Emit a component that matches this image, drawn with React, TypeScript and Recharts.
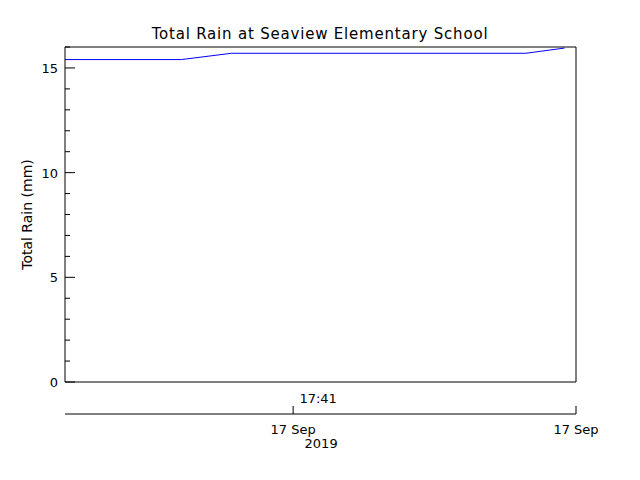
import React from "react";
import {
  LineChart,
  Line,
  XAxis,
  YAxis,
  ReferenceLine,
} from "recharts";

// minutes after 17:00 on 17 Sep 2019
const times = [36.0, 38.55, 39.65, 46.1, 46.95];
const rain = [15.4, 15.4, 15.7, 15.7, 15.95];

const timeDomain = [36.0, 47.2];
const timeTicks = [41];
const timeLabels = ["17:41"];
const dateTicks = [41, 47.2];
const dateLabels = ["17 Sep", "17 Sep"];
const yearLabels = ["2019", ""];

const yTicks = [0, 1, 2, 3, 4, 5, 6, 7, 8, 9, 10, 11, 12, 13, 14, 15, 16];
const yLabelled = [0, 5, 10, 15];

const data = times.map((t, i) => ({ t, rain: rain[i] }));

const FONT = "'DejaVu Sans', sans-serif";

function LeftTick(props: any) {
  const { x, y, payload } = props;
  const major = yLabelled.includes(payload.value);
  return (
    <g>
      <line x1={x} x2={x + (major ? 10 : 5)} y1={y} y2={y} stroke="#000" />
      {major && (
        <text x={x - 7} y={y + 5} textAnchor="end" fontSize={13} fontFamily={FONT} fill="#000">
          {payload.value}
        </text>
      )}
    </g>
  );
}

function RightTick(props: any) {
  const { x, y, payload } = props;
  const major = yLabelled.includes(payload.value);
  return <line x1={x} x2={x - (major ? 10 : 5)} y1={y} y2={y} stroke="#000" />;
}

function TimeTick(props: any) {
  const { x, y, index } = props;
  return (
    <text x={x + 25} y={y + 21} textAnchor="middle" fontSize={13} fontFamily={FONT} fill="#000">
      {timeLabels[index]}
    </text>
  );
}

function DateTick(props: any) {
  const { x, y, index } = props;
  return (
    <g>
      <line x1={x} x2={x} y1={y} y2={y - 8} stroke="#000" />
      <text x={x} y={y + 20} textAnchor="middle" fontSize={13} fontFamily={FONT} fill="#000">
        {dateLabels[index]}
      </text>
      {yearLabels[index] && (
        <text x={x + 28} y={y + 34} textAnchor="middle" fontSize={13} fontFamily={FONT} fill="#000">
          {yearLabels[index]}
        </text>
      )}
    </g>
  );
}

export default function App() {
  return (
    <div style={{ position: "absolute", left: 0, top: 0, width: 640, height: 480, background: "#fff" }}>
      <div
        style={{
          position: "absolute",
          left: 0,
          top: 24,
          width: 640,
          textAlign: "center",
          fontFamily: FONT,
          fontSize: 15,
          letterSpacing: 0.8,
          lineHeight: "20px",
        }}
      >
        Total Rain at Seaview Elementary School
      </div>
      <LineChart
        width={640}
        height={480}
        data={data}
        margin={{ top: 47, right: 0, bottom: 0, left: 0 }}
      >
        <XAxis
          xAxisId="a"
          dataKey="t"
          type="number"
          domain={timeDomain}
          ticks={timeTicks}
          tick={<TimeTick />}
          tickLine={false}
          tickSize={0}
          tickMargin={0}
          height={32}
          axisLine={{ stroke: "#000" }}
          allowDataOverflow
        />
        <XAxis
          xAxisId="b"
          dataKey="t"
          type="number"
          domain={timeDomain}
          ticks={dateTicks}
          tick={<DateTick />}
          tickLine={false}
          tickSize={0}
          tickMargin={0}
          height={66}
          axisLine={{ stroke: "#000" }}
          interval={0}
          allowDataOverflow
        />
        <YAxis
          yAxisId="left"
          type="number"
          domain={[0, 16]}
          ticks={yTicks}
          interval={0}
          tick={<LeftTick />}
          tickLine={false}
          tickSize={0}
          tickMargin={0}
          width={65}
          axisLine={{ stroke: "#000" }}
          label={{
            value: "Total Rain (mm)",
            angle: -90,
            position: "insideLeft",
            offset: 27,
            style: { fontSize: 14, fontFamily: FONT, fill: "#000", textAnchor: "middle" },
          }}
        />
        <YAxis
          yAxisId="right"
          orientation="right"
          type="number"
          domain={[0, 16]}
          ticks={yTicks}
          interval={0}
          tick={<RightTick />}
          tickLine={false}
          tickSize={0}
          tickMargin={0}
          width={64}
          axisLine={{ stroke: "#000" }}
        />
        <ReferenceLine yAxisId="left" xAxisId="a" y={16} stroke="#000" />
        <Line
          xAxisId="a"
          yAxisId="left"
          type="linear"
          dataKey="rain"
          stroke="#0000ff"
          strokeWidth={1}
          dot={false}
          isAnimationActive={false}
        />
      </LineChart>
    </div>
  );
}
